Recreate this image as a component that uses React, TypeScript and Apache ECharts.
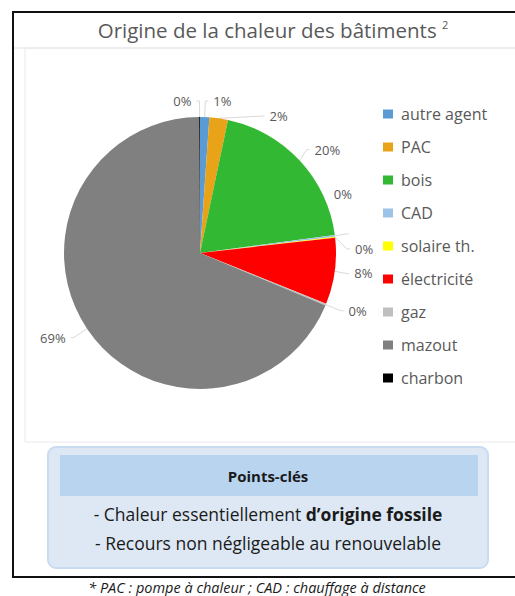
import React, { useEffect, useRef } from "react";
import * as echarts from "echarts";

const TITLE = "Origine de la chaleur des bâtiments";
const categories = ["autre agent", "PAC", "bois", "CAD", "solaire th.", "électricité", "gaz", "mazout", "charbon"];
const values = [1.1, 2.2, 19.6, 0.2, 0.1, 7.9, 0.2, 68.6, 0.1];
const colors = ["#5B9BD5", "#E9A318", "#33B833", "#9DC3E6", "#FFFF00", "#FF0000", "#BFBFBF", "#808080", "#000000"];
const keyTitle = "Points-clés";
const keyLine1a = "- Chaleur essentiellement ";
const keyLine1b = "d’origine fossile";
const keyLine2 = "- Recours non négligeable au renouvelable";
const footnote = "* PAC : pompe à chaleur ; CAD : chauffage à distance";

const FONT = "'Open Sans', Lato, sans-serif";

export default function App() {
  const ref = useRef<HTMLDivElement>(null);
  useEffect(() => {
    if (!ref.current) return;
    const chart = echarts.init(ref.current, undefined, { renderer: "svg" });
    chart.setOption({
      animation: false,
      backgroundColor: "#ffffff",
      color: colors,
      textStyle: { fontFamily: FONT },
      title: {
        text: TITLE + " {sup|2}",
        left: 268,
        textAlign: "center",
        top: 14,
        textStyle: {
          fontFamily: FONT,
          fontSize: 20.5,
          fontWeight: "normal",
          color: "#595959",
          rich: {
            sup: { fontSize: 11, color: "#595959", verticalAlign: "top", padding: [0, 0, 11, 0], fontFamily: FONT },
          },
        },
      },
      legend: {
        orient: "vertical",
        left: 383,
        top: 106,
        padding: 0,
        itemWidth: 10,
        itemHeight: 9,
        itemGap: 17,
        icon: "rect",
        data: categories,
        textStyle: { fontFamily: FONT, fontSize: 16, color: "#595959", padding: [0, 0, 0, 3] },
        selectedMode: false,
      },
      graphic: [
        { type: "rect", shape: { x: 13, y: 12, width: 520, height: 565 }, style: { fill: "none", stroke: "#111", lineWidth: 2 }, silent: true },
        { type: "line", shape: { x1: 14, y1: 48, x2: 515, y2: 48 }, style: { stroke: "#e2e2e2", lineWidth: 1 }, silent: true },
        { type: "rect", shape: { x: 25, y: 48, width: 500, height: 394 }, style: { fill: "none", stroke: "#e8e8e8", lineWidth: 1 }, silent: true },
        { type: "rect", shape: { x: 48, y: 447, width: 440, height: 121, r: 8 }, style: { fill: "#dde8f4", stroke: "#c8dbf0", lineWidth: 2 }, silent: true },
        { type: "rect", shape: { x: 60, y: 455, width: 418, height: 41 }, style: { fill: "#b9d4ef" }, silent: true },
        {
          type: "text", x: 268, y: 476,
          style: { text: keyTitle, fontFamily: FONT, fontSize: 15, fontWeight: "bold", fill: "#1a1a1a", align: "center", verticalAlign: "middle" },
          silent: true,
        },
        {
          type: "text", x: 268, y: 514,
          style: {
            text: keyLine1a + "{b|" + keyLine1b + "}",
            fontFamily: FONT, fontSize: 17.5, fill: "#1a1a1a", align: "center", verticalAlign: "middle",
            rich: { b: { fontFamily: FONT, fontSize: 17.5, fontWeight: "bold", fill: "#1a1a1a" } },
          },
          silent: true,
        },
        {
          type: "text", x: 268, y: 543,
          style: { text: keyLine2, fontFamily: FONT, fontSize: 17.5, fill: "#1a1a1a", align: "center", verticalAlign: "middle" },
          silent: true,
        },
        {
          type: "text", x: 257, y: 587,
          style: { text: footnote, fontFamily: FONT, fontSize: 14.5, fontStyle: "italic", fill: "#1a1a1a", align: "center", verticalAlign: "middle" },
          silent: true,
        },
      ],
      series: [
        {
          type: "pie",
          center: [200, 253],
          radius: 136,
          startAngle: 90,
          clockwise: true,
          avoidLabelOverlap: true,
          data: categories.map((c, i) => ({ name: c, value: values[i] })),
          itemStyle: { borderWidth: 0 },
          label: {
            show: true,
            position: "outside",
            formatter: (p: any) => Math.round(p.percent) + "%",
            fontFamily: FONT,
            fontSize: 13,
            color: "#595959",
          },
          labelLayout: (p: any) => (p.dataIndex === 3 ? { dx: -20, dy: -40 } : {}),
          labelLine: { show: true, length: 16, length2: 3, lineStyle: { color: "#d9d9d9", width: 1 } },
          emphasis: { disabled: true },
        },
      ],
    });
    return () => chart.dispose();
  }, []);
  return <div ref={ref} style={{ position: "absolute", left: 0, top: 0, width: 515, height: 596 }} />;
}
